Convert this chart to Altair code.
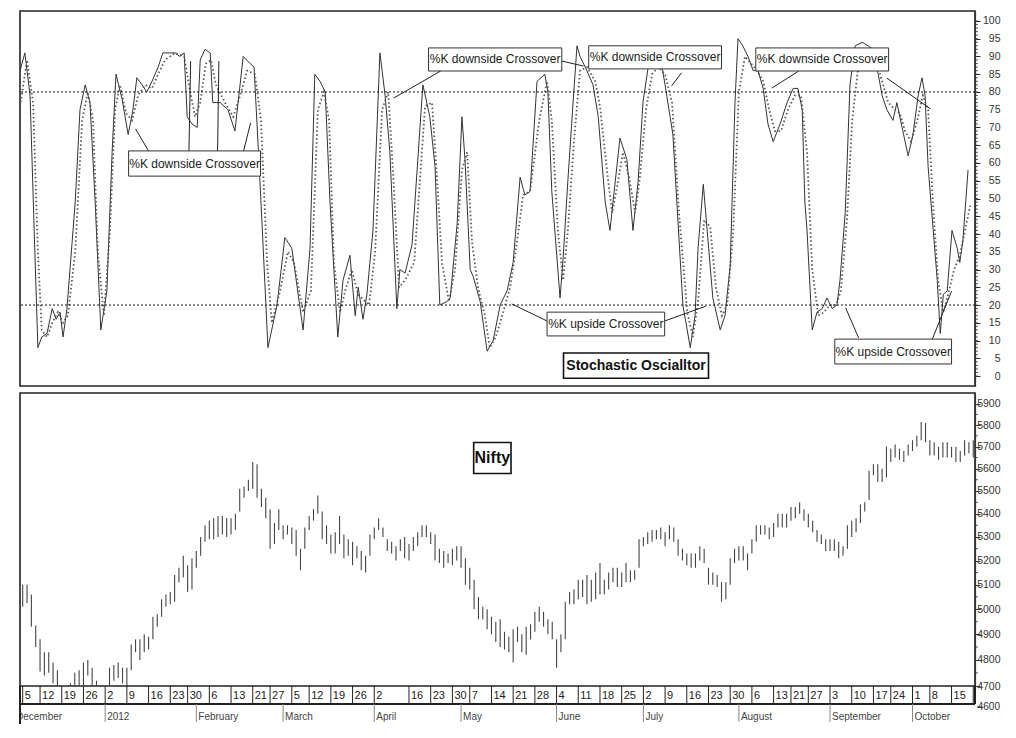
import altair as alt
import pandas as pd

# ---------------- trading calendar ----------------
holidays = ["2011-12-06", "2012-01-26", "2012-02-20", "2012-03-08", "2012-04-05",
            "2012-04-06", "2012-05-01", "2012-08-15", "2012-08-20", "2012-09-19",
            "2012-10-02"]
all_days = [d.strftime("%Y-%m-%d") for d in pd.bdate_range("2011-12-01", "2012-10-23")]
trading_days = [d for d in all_days if d not in holidays]
pos = {d: i for i, d in enumerate(trading_days)}
start = pos["2011-12-05"]

# ---------------- Nifty daily bars (low / high), Dec 5 2011 .. Oct 22 2012 ----------------
nifty_low = [
    # Dec
    5010, 5025, 4930, 4850, 4755, 4740, 4750, 4710, 4630, 4590, 4530, 4560, 4690, 4700, 4700, 4740, 4690, 4630, 4590,
    # Jan
    4590, 4650, 4720, 4730, 4710, 4700, 4760, 4830, 4800, 4830, 4840, 4880, 4930, 4970, 5010, 5020, 5030, 5110, 5130, 5070, 5080,
    # Feb
    5170, 5220, 5280, 5290, 5290, 5300, 5310, 5300, 5310, 5330, 5410, 5470, 5500, 5510, 5470, 5430, 5380, 5250, 5270, 5330,
    # Mar
    5290, 5310, 5270, 5220, 5160, 5250, 5330, 5370, 5400, 5290, 5270, 5230, 5230, 5270, 5210, 5220, 5180, 5210, 5160, 5150, 5220,
    # Apr
    5290, 5330, 5300, 5240, 5230, 5200, 5240, 5210, 5200, 5240, 5260, 5300, 5300, 5270, 5200, 5190, 5170, 5190, 5180,
    # May
    5200, 5170, 5100, 5080, 5000, 4960, 4960, 4920, 4900, 4870, 4850, 4840, 4830, 4790, 4870, 4830, 4820, 4880, 4910, 4950, 4930, 4900,
    # Jun
    4880, 4770, 4830, 4880, 5020, 5020, 5040, 5050, 5020, 5030, 5040, 5060, 5060, 5080, 5110, 5090, 5090, 5110, 5110, 5120, 5170,
    # Jul
    5260, 5270, 5280, 5290, 5290, 5260, 5290, 5280, 5220, 5200, 5180, 5170, 5170, 5200, 5190, 5100, 5100, 5090, 5030, 5040, 5100, 5190,
    # Aug
    5200, 5200, 5160, 5230, 5280, 5310, 5310, 5290, 5300, 5340, 5340, 5340, 5370, 5380, 5400, 5370, 5340, 5320, 5280, 5270, 5240,
    # Sep
    5240, 5240, 5210, 5220, 5250, 5300, 5320, 5360, 5410, 5460, 5570, 5540, 5540, 5560, 5630, 5650, 5640, 5630, 5660,
    # Oct
    5680, 5700, 5730, 5720, 5660, 5660, 5640, 5650, 5650, 5650, 5630, 5630, 5660, 5670, 5650,
]
nifty_high = [
    # Dec
    5100, 5100, 5060, 4935, 4880, 4830, 4830, 4790, 4760, 4670, 4640, 4710, 4750, 4760, 4790, 4800, 4770, 4720, 4670,
    # Jan
    4660, 4770, 4780, 4790, 4770, 4770, 4860, 4880, 4880, 4900, 4890, 4970, 4980, 5040, 5060, 5070, 5140, 5170, 5220, 5180, 5210,
    # Feb
    5240, 5300, 5350, 5370, 5380, 5390, 5390, 5380, 5380, 5400, 5510, 5520, 5550, 5630, 5620, 5510, 5470, 5420, 5360, 5420,
    # Mar
    5350, 5350, 5340, 5330, 5250, 5340, 5390, 5420, 5480, 5410, 5350, 5310, 5320, 5390, 5310, 5290, 5280, 5260, 5240, 5220, 5310,
    # Apr
    5340, 5380, 5340, 5290, 5280, 5260, 5290, 5300, 5270, 5300, 5320, 5350, 5350, 5320, 5310, 5250, 5240, 5230, 5250,
    # May
    5260, 5260, 5210, 5170, 5120, 5050, 5010, 5000, 4970, 4950, 4960, 4910, 4890, 4920, 4930, 4900, 4930, 4940, 4990, 5010, 4990, 4960,
    # Jun
    4950, 4880, 4900, 5030, 5070, 5080, 5120, 5120, 5140, 5120, 5150, 5190, 5120, 5150, 5170, 5170, 5150, 5190, 5160, 5160, 5290,
    # Jul
    5300, 5320, 5330, 5330, 5340, 5320, 5350, 5340, 5290, 5250, 5230, 5230, 5230, 5260, 5250, 5170, 5150, 5140, 5110, 5110, 5210, 5250,
    # Aug
    5260, 5260, 5230, 5290, 5350, 5350, 5350, 5340, 5360, 5400, 5400, 5400, 5430, 5430, 5450, 5420, 5400, 5370, 5330, 5310, 5290,
    # Sep
    5290, 5290, 5280, 5260, 5350, 5370, 5380, 5440, 5450, 5590, 5620, 5620, 5600, 5700, 5690, 5710, 5690, 5680, 5710,
    # Oct
    5730, 5750, 5815, 5810, 5730, 5720, 5700, 5720, 5720, 5700, 5700, 5680, 5730, 5720, 5730,
]
assert len(nifty_low) == len(nifty_high) == 220

# ---------------- Stochastic oscillator (trading days after Dec 5 2011, value) ----------------
k_day = [-0.6, 0.5, 1.7, 2.8, 3.5, 4.4, 5.6, 6.8, 7.7, 8.6,
         9.3, 10.2, 12.1, 13.2, 14.4, 15.5, 16.7, 18.0, 19.4, 20.6,
         21.5, 22.9, 24.3, 25.4, 26.3, 27.5, 28.6, 29.8, 31.2, 32.3,
         33.9, 35.1, 36.2, 37.2, 37.9, 39.0, 40.2, 40.9, 42.0, 43.2,
         43.8, 45.5, 47.3, 48.9, 50.8, 52.4, 53.3, 54.2, 55.1, 56.5,
         58.6, 60.4, 62.0, 64.6, 66.2, 67.3, 68.5, 69.7, 70.8, 72.6,
         73.8, 75.4, 76.6, 77.3, 78.4, 79.3, 80.7, 82.3, 83.5, 84.6,
         86.2, 86.9, 88.1, 89.7, 92.2, 93.8, 95.0, 96.1, 97.8, 98.5,
         100.1, 101.2, 101.9, 103.1, 103.8, 105.4, 107.0, 108.4, 110.0, 111.6,
         113.0, 114.6, 115.7, 116.9, 118.5, 120.3, 121.0, 121.9, 123.8, 124.5,
         125.6, 126.8, 127.7, 128.4, 129.6, 131.4, 132.6, 134.2, 135.3, 136.0,
         137.6, 139.2, 140.6, 141.8, 142.9, 144.1, 145.0, 146.2, 147.3, 148.0,
         149.8, 152.1, 153.8, 154.9, 155.6, 156.8, 157.7, 159.0, 160.7, 161.8,
         163.0, 164.1, 164.8, 165.9, 167.1, 168.3, 169.4, 170.6, 171.7, 172.9,
         174.5, 176.1, 177.5, 178.6, 179.6, 180.2, 180.7, 181.9, 183.0, 184.2,
         185.3, 186.5, 187.6, 188.3, 189.5, 190.6, 191.8, 193.4, 194.8, 195.9,
         197.1, 198.0, 199.1, 200.5, 201.4, 202.6, 204.0, 205.1, 206.3, 207.2,
         207.9, 208.6, 210.7, 211.4, 212.1, 213.0, 214.1, 215.3, 215.9, 216.6,
         217.8]
k_val = [86, 91, 79, 35, 8, 11, 12, 19, 16, 18,
         11, 19, 49, 75, 82, 77, 49, 13, 24, 63,
         85, 78, 68, 75, 84, 82, 80, 83, 87, 91,
         91, 91, 90, 91, 73, 71, 70, 89, 92, 91,
         77, 77, 75, 69, 90, 88, 87, 66, 44, 8,
         20, 39, 36, 13, 36, 85, 83, 80, 49, 11,
         27, 34, 17, 25, 16, 23, 41, 91, 79, 63,
         19, 30, 29, 37, 82, 73, 59, 20, 21, 22,
         43, 73, 61, 30, 28, 21, 7, 10, 20, 24,
         32, 56, 51, 52, 83, 85, 80, 52, 22, 33,
         55, 77, 93, 90, 87, 82, 73, 49, 41, 49,
         67, 61, 41, 55, 77, 87, 89, 89, 87, 82,
         68, 20, 8, 17, 36, 54, 41, 22, 13, 17,
         31, 77, 95, 93, 90, 86, 86, 81, 71, 66,
         71, 77, 81, 81, 75, 49, 41, 13, 18, 19,
         22, 19, 20, 27, 46, 82, 93, 94, 93, 92,
         85, 79, 75, 72, 77, 70, 62, 68, 79, 84,
         79, 59, 27, 12, 23, 24, 41, 36, 32, 38,
         58]
d_day = [-0.6, 1.0, 2.4, 3.5, 4.4, 5.6, 6.8, 8.1, 9.3, 10.4,
         12.1, 13.7, 15.0, 16.2, 17.3, 18.7, 20.1, 21.3, 22.4, 23.8,
         25.2, 26.6, 28.2, 29.8, 31.2, 32.8, 35.1, 37.2, 38.3, 39.7,
         40.9, 42.2, 43.4, 44.5, 46.6, 48.5, 50.1, 51.7, 53.5, 54.9,
         56.3, 57.4, 59.3, 61.1, 62.5, 64.6, 66.4, 68.0, 69.4, 70.6,
         71.7, 73.1, 74.3, 75.8, 77.3, 78.9, 79.8, 81.2, 82.8, 84.2,
         85.3, 86.7, 88.1, 90.2, 92.7, 94.3, 95.5, 96.6, 98.2, 99.6,
         101.2, 102.4, 103.5, 104.9, 106.5, 107.6, 109.0, 110.7, 112.3, 113.9,
         115.3, 116.9, 119.0, 120.8, 121.9, 123.3, 124.5, 125.6, 127.0, 128.4,
         130.0, 131.9, 133.0, 134.6, 135.8, 136.9, 138.3, 139.7, 141.1, 142.2,
         143.6, 145.0, 146.4, 148.0, 149.6, 151.2, 153.1, 154.4, 155.6, 157.0,
         158.4, 159.7, 161.1, 162.3, 163.7, 165.0, 166.4, 167.8, 169.2, 170.6,
         172.0, 173.3, 174.7, 176.3, 177.9, 179.3, 180.7, 181.9, 183.3, 184.6,
         186.0, 187.4, 188.5, 189.9, 191.1, 192.5, 193.8, 195.2, 196.6, 198.0,
         199.4, 201.0, 202.1, 203.3, 204.7, 206.1, 207.4, 208.6, 209.7, 210.9,
         212.1, 213.2, 214.6, 215.9, 217.1, 218.3]
d_val = [76, 89, 77, 35, 13, 11, 15, 18, 15, 17,
         35, 72, 80, 72, 35, 17, 41, 75, 82, 74,
         72, 79, 82, 81, 85, 89, 91, 90, 82, 73,
         77, 88, 89, 82, 77, 73, 79, 86, 85, 72,
         32, 15, 24, 35, 32, 18, 24, 75, 80, 72,
         32, 18, 24, 30, 23, 21, 20, 35, 75, 80,
         58, 25, 27, 32, 76, 77, 55, 32, 21, 30,
         58, 63, 38, 25, 17, 8, 11, 18, 25, 38,
         51, 52, 72, 83, 72, 41, 27, 41, 66, 86,
         87, 83, 76, 58, 46, 53, 63, 56, 46, 56,
         75, 85, 87, 85, 77, 46, 18, 11, 21, 44,
         42, 25, 17, 20, 41, 80, 90, 88, 86, 83,
         75, 69, 69, 75, 79, 79, 63, 30, 17, 18,
         20, 20, 24, 44, 72, 87, 92, 92, 89, 83,
         77, 75, 74, 69, 66, 72, 79, 75, 49, 27,
         18, 23, 30, 34, 41, 48]
assert len(k_day) == len(k_val) and len(d_day) == len(d_val)

levels = [80, 20]
osc_ticks = list(range(0, 101, 5))
osc_minor = list(range(0, 101))
nifty_ticks = list(range(4700, 6000, 100))
nifty_minor = list(range(4750, 5950, 100))
nifty_stray_label = "4600"        # printed under the date strip in the original

# ---------------- annotations ----------------
ann_text = ["%K downside Crossover", "%K downside Crossover", "%K downside Crossover",
            "%K downside Crossover", "%K upside Crossover", "%K upside Crossover"]
ann_x1 = [24.4, 93.5, 130.4, 168.9, 120.8, 187.1]
ann_x2 = [54.8, 124.2, 161.0, 199.5, 147.9, 214.0]
ann_y1 = [56.3, 85.9, 86.5, 85.9, 11.3, 3.4]
ann_y2 = [63.4, 92.4, 93.0, 92.4, 18.0, 10.4]
ptr_x1 = [29.0, 38.3, 44.9, 50.9, 96.3, 124.2, 151.8, 178.8, 199.1, 120.8, 147.9, 192.6, 209.4]
ptr_y1 = [63.4, 63.4, 63.4, 63.4, 85.9, 88.7, 85.4, 85.9, 83.9, 15.5, 15.5, 10.7, 9.9]
ptr_x2 = [26.0, 38.7, 45.2, 52.5, 85.5, 129.2, 149.5, 172.6, 209.2, 112.7, 157.4, 189.6, 214.0]
ptr_y2 = [69.6, 88.7, 88.7, 71.3, 78.3, 87.3, 81.7, 81.1, 75.2, 20.3, 19.7, 19.2, 23.9]
title_osc = "Stochastic Oscialltor"
title_osc_box = [124.6, 158.0, -0.6, 6.5]
title_nifty = "Nifty"
title_nifty_box = [103.9, 112.5, 5578, 5719]

week_starts = ["2011-12-05", "2011-12-12", "2011-12-19", "2011-12-26", "2012-01-02", "2012-01-09",
               "2012-01-16", "2012-01-23", "2012-01-30", "2012-02-06", "2012-02-13", "2012-02-21",
               "2012-02-27", "2012-03-05", "2012-03-12", "2012-03-19", "2012-03-26", "2012-04-02",
               "2012-04-16", "2012-04-23", "2012-04-30", "2012-05-07", "2012-05-14", "2012-05-21",
               "2012-05-28", "2012-06-04", "2012-06-11", "2012-06-18", "2012-06-25", "2012-07-02",
               "2012-07-09", "2012-07-16", "2012-07-23", "2012-07-30", "2012-08-06", "2012-08-13",
               "2012-08-21", "2012-08-27", "2012-09-03", "2012-09-10", "2012-09-17", "2012-09-24",
               "2012-10-01", "2012-10-08", "2012-10-15", "2012-10-22"]
month_names = ["2012", "February", "March", "April", "May", "June", "July",
               "August", "September", "October"]
month_first = ["2012-01-02", "2012-02-01", "2012-03-01", "2012-04-02", "2012-05-03",
               "2012-06-04", "2012-07-02", "2012-08-01", "2012-09-03", "2012-10-01"]
first_month = "December"          # its first trading day lies before the chart's left edge
first_month_day = "2011-12-01"

# ---------------- tables ----------------
nifty_df = pd.DataFrame({"x": [pos[d] for d in trading_days[start:start + 220]],
                         "low": nifty_low, "high": nifty_high})
k_df = pd.DataFrame({"x": [start + t for t in k_day], "v": k_val})
d_df = pd.DataFrame({"x": [start + t for t in d_day], "v": d_val})
lvl_df = pd.DataFrame({"v": levels})
minor_df = pd.DataFrame({"v": osc_minor})
nminor_df = pd.DataFrame({"p": nifty_minor})
ann_df = pd.DataFrame({"label": ann_text, "x1": [start + a for a in ann_x1], "x2": [start + a for a in ann_x2],
                       "y1": ann_y1, "y2": ann_y2})
ann_df["xc"] = (ann_df.x1 + ann_df.x2) / 2
ann_df["yc"] = (ann_df.y1 + ann_df.y2) / 2
ptr_df = pd.DataFrame({"x1": [start + a for a in ptr_x1], "x2": [start + a for a in ptr_x2],
                       "y1": ptr_y1, "y2": ptr_y2})
tosc_df = pd.DataFrame({"label": [title_osc], "x1": [start + title_osc_box[0]], "x2": [start + title_osc_box[1]],
                        "y1": [title_osc_box[2]], "y2": [title_osc_box[3]]})
tosc_df["xc"] = (tosc_df.x1 + tosc_df.x2) / 2
tosc_df["yc"] = (tosc_df.y1 + tosc_df.y2) / 2
tn_df = pd.DataFrame({"label": [title_nifty], "x1": [start + title_nifty_box[0]], "x2": [start + title_nifty_box[1]],
                      "y1": [title_nifty_box[2]], "y2": [title_nifty_box[3]]})
tn_df["xc"] = (tn_df.x1 + tn_df.x2) / 2
tn_df["yc"] = (tn_df.y1 * tn_df.y2) ** 0.5
week_df = pd.DataFrame({"x": [pos[d] for d in week_starts], "label": [str(int(d[-2:])) for d in week_starts]})
month_df = pd.DataFrame({"x": [pos[d] for d in month_first], "label": month_names})
first_df = pd.DataFrame({"x": [pos[first_month_day]], "label": [first_month]})
stray_df = pd.DataFrame({"label": [nifty_stray_label]})

# ---------------- scales / axes ----------------
W, H1, H2, H3 = 955, 375, 293, 38
RF = "Liberation Sans, Arial, sans-serif"
xs = alt.Scale(domain=[1.38, 221.4], nice=False, zero=False)
ys_osc = alt.Scale(domain=[-2.8, 102.8], nice=False, zero=False)
ys_n = alt.Scale(type="log", domain=[4700, 5952], nice=False, zero=False)
X = lambda f: alt.X(f, type="quantitative", scale=xs, axis=None)

axis_common = dict(orient="right", tickSize=5, labelAlign="right", labelPadding=20, labelFontSize=10.5,
                   labelColor="#333", domainColor="#333", tickColor="#333", grid=False, title=None,
                   labelFont=RF, domainWidth=1.2, labelOverlap=False)
osc_axis = alt.Axis(values=osc_ticks, format="d", **axis_common)
n_axis = alt.Axis(values=nifty_ticks, format="d", **axis_common)
YO = lambda f: alt.Y(f, type="quantitative", scale=ys_osc, axis=osc_axis)
YN = lambda f: alt.Y(f, type="quantitative", scale=ys_n, axis=n_axis)

# ---------------- oscillator panel ----------------
k_line = alt.Chart(k_df).mark_line(color="#333", strokeWidth=1, clip=True).encode(x=X("x"), y=YO("v"))
d_line = alt.Chart(d_df).mark_line(color="#555", strokeWidth=1.8, strokeDash=[1.5, 2.5], clip=True).encode(
    x=X("x"), y=YO("v"))
lvl = alt.Chart(lvl_df).mark_rule(color="#111", strokeWidth=1, strokeDash=[2, 2]).encode(y=YO("v"))
minor = alt.Chart(minor_df).mark_rule(color="#333", strokeWidth=0.8).encode(
    y=YO("v"), x=alt.value(W), x2=alt.value(W + 3))
ptr = alt.Chart(ptr_df).mark_rule(color="#222", strokeWidth=1).encode(
    x=X("x1"), x2="x2:Q", y=YO("y1"), y2="y2:Q")
boxes = alt.Chart(ann_df).mark_rect(fill="white", stroke="#333", strokeWidth=1).encode(
    x=X("x1"), x2="x2:Q", y=YO("y1"), y2="y2:Q")
texts = alt.Chart(ann_df).mark_text(font=RF, fontSize=12, color="#222").encode(
    x=X("xc"), y=YO("yc"), text="label:N")
tbox = alt.Chart(tosc_df).mark_rect(fill="white", stroke="#111", strokeWidth=1.6).encode(
    x=X("x1"), x2="x2:Q", y=YO("y1"), y2="y2:Q")
ttext = alt.Chart(tosc_df).mark_text(font=RF, fontSize=14, fontWeight="bold", color="#111").encode(
    x=X("xc"), y=YO("yc"), text="label:N")

osc = alt.layer(k_line, d_line, lvl, minor, ptr, boxes, texts, tbox, ttext).properties(width=W, height=H1)

# ---------------- Nifty panel ----------------
bars = alt.Chart(nifty_df).mark_rule(color="#444", strokeWidth=1.1, clip=True).encode(
    x=X("x"), y=YN("low"), y2="high:Q")
nminor = alt.Chart(nminor_df).mark_rule(color="#333", strokeWidth=0.8).encode(
    y=YN("p"), x=alt.value(W), x2=alt.value(W + 3))
nbox = alt.Chart(tn_df).mark_rect(fill="white", stroke="#111", strokeWidth=1.6).encode(
    x=X("x1"), x2="x2:Q", y=YN("y1"), y2="y2:Q")
ntext = alt.Chart(tn_df).mark_text(font=RF, fontSize=16, fontWeight="bold", color="#111").encode(
    x=X("xc"), y=YN("yc"), text="label:N")
nifty = alt.layer(bars, nminor, nbox, ntext).properties(width=W, height=H2)

# ---------------- date row ----------------
wsep = alt.Chart(week_df).mark_rule(color="#222", strokeWidth=1).encode(
    x=X("x"), y=alt.value(0), y2=alt.value(18))
wtext = alt.Chart(week_df).mark_text(align="left", baseline="middle", dx=2, font=RF, fontSize=11,
                                     color="#222", clip=True).encode(x=X("x"), y=alt.value(9.5), text="label:N")
row_bottom = alt.Chart(week_df).mark_rule(color="#222", strokeWidth=2).encode(
    x=alt.value(0), x2=alt.value(W), y=alt.value(18))
row_left = alt.Chart(week_df).mark_rule(color="#222", strokeWidth=1.5).encode(
    x=alt.value(0), y=alt.value(0), y2=alt.value(H3))
row_right = alt.Chart(week_df).mark_rule(color="#222", strokeWidth=1.2).encode(
    x=alt.value(W), y=alt.value(0), y2=alt.value(18))
msep = alt.Chart(month_df).mark_rule(color="#888", strokeWidth=1).encode(
    x=X("x"), y=alt.value(18), y2=alt.value(36))
mtext = alt.Chart(month_df).mark_text(align="left", baseline="middle", dx=2, font=RF, fontSize=10,
                                      color="#444").encode(x=X("x"), y=alt.value(31), text="label:N")
ftext = alt.Chart(first_df).mark_text(align="left", baseline="middle", dx=2, font=RF, fontSize=10,
                                      color="#444", clip=True).encode(x=X("x"), y=alt.value(31), text="label:N")
stray_tick = alt.Chart(stray_df).mark_rule(color="#333", strokeWidth=1.2).encode(
    x=alt.value(W + 2), x2=alt.value(W + 7), y=alt.value(21))
stray_text = alt.Chart(stray_df).mark_text(align="right", baseline="middle", font=RF, fontSize=10,
                                           color="#333").encode(x=alt.value(W + 25), y=alt.value(21), text="label:N")
daterow = alt.layer(wsep, wtext, row_bottom, row_left, row_right, msep, mtext, ftext,
                    stray_tick, stray_text).properties(
    width=W, height=H3, view=alt.ViewBackground(stroke="transparent"))

chart = alt.vconcat(osc, alt.vconcat(nifty, daterow, spacing=0, bounds="flush"),
                    spacing=7, bounds="flush").properties(
    padding={"left": 10, "top": 2, "right": 2, "bottom": 2}, background="white"
).configure_view(stroke="#222", strokeWidth=1.6)

chart.save("out.html", embed_options={"renderer": "svg", "actions": False})
